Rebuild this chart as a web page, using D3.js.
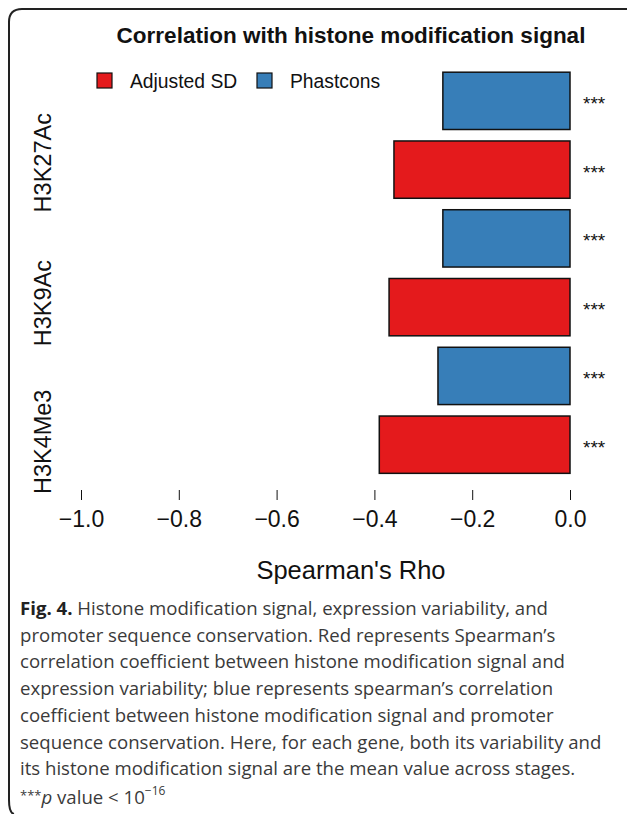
<!DOCTYPE html>
<html>
<head>
<meta charset="utf-8">
<script src="https://cdn.jsdelivr.net/npm/d3@7"></script>
<style>
  html, body { margin: 0; padding: 0; background: #fff; }
  svg { display: block; }
</style>
</head>
<body>
<svg id="fig" width="627" height="814"></svg>
<script>
// Histone marks, listed from the bottom of the chart to the top
const categories = ["H3K4Me3", "H3K9Ac", "H3K27Ac"];
// Spearman's rho with expression variability (adjusted SD)
const adjustedSD = [-0.39, -0.37, -0.36];
// Spearman's rho with promoter conservation (PhastCons)
const phastcons = [-0.27, -0.26, -0.26];
const significance = ["***", "***", "***"];
const seriesNames = ["Adjusted SD", "Phastcons"];
const xTicks = [-1.0, -0.8, -0.6, -0.4, -0.2, 0.0];

const colors = { "Adjusted SD": "#E41A1C", "Phastcons": "#377EB8" };
const sans = "'Liberation Sans', Arial, Helvetica, sans-serif";

const svg = d3.select("#fig");

// Figure frame with rounded corners (open at the right and bottom edges)
svg.append("path")
  .attr("d", "M627,9 L22,9 Q9,9 9,22 L9,800 Q9,813 14,814")
  .attr("fill", "none")
  .attr("stroke", "#222")
  .attr("stroke-width", 2);

// Scales: x in rho units, y in barplot units (bar width 1, gap 0.2)
const x = d3.scaleLinear().domain([-1, 0]).range([81, 570]);
const y = d3.scaleLinear().domain([0, 7.2]).range([484.8, 72.2]);

// Flatten into bars: for each mark, the Adjusted SD bar sits below the Phastcons bar
const bars = [];
categories.forEach((c, i) => {
  bars.push({ cat: c, series: "Adjusted SD", value: adjustedSD[i], sig: significance[i] });
  bars.push({ cat: c, series: "Phastcons", value: phastcons[i], sig: significance[i] });
});
bars.forEach((b, i) => { b.lo = 0.2 + 1.2 * i; b.hi = b.lo + 1; });

svg.append("g").selectAll("rect")
  .data(bars)
  .join("rect")
  .attr("x", d => x(d.value))
  .attr("y", d => y(d.hi))
  .attr("width", d => x(0) - x(d.value))
  .attr("height", d => y(d.lo) - y(d.hi))
  .attr("fill", d => colors[d.series])
  .attr("stroke", "#111")
  .attr("stroke-width", 1.5);

// Significance stars to the right of each bar
svg.append("g").selectAll("text")
  .data(bars)
  .join("text")
  .attr("x", x(0) + 13)
  .attr("y", d => y((d.lo + d.hi) / 2) + 9)
  .attr("font-family", sans)
  .attr("font-size", 19)
  .attr("fill", "#111")
  .text(d => d.sig);

// x axis: ticks only, no baseline
const fmt = v => (v < 0 ? "\u2212" : "") + Math.abs(v).toFixed(1);
const xAxis = svg.append("g")
  .attr("transform", "translate(0,490)")
  .call(d3.axisBottom(x).tickValues(xTicks).tickFormat(fmt).tickSize(10).tickPadding(11));
xAxis.select(".domain").remove();
xAxis.selectAll(".tick line").attr("stroke", "#111").attr("stroke-width", 1);
xAxis.selectAll(".tick text")
  .attr("font-family", sans)
  .attr("font-size", 23)
  .attr("fill", "#111");

// Axis title
svg.append("text")
  .attr("x", 351)
  .attr("y", 579)
  .attr("text-anchor", "middle")
  .attr("font-family", sans)
  .attr("font-size", 25.5)
  .attr("fill", "#111")
  .text("Spearman's Rho");

// Category labels, rotated to read upward
const labelUnits = [0.75, 3.17, 5.62];
svg.append("g").selectAll("text")
  .data(categories)
  .join("text")
  .attr("transform", (d, i) => `translate(51,${y(labelUnits[i])}) rotate(-90)`)
  .attr("text-anchor", "middle")
  .attr("font-family", sans)
  .attr("font-size", 23.5)
  .attr("fill", "#111")
  .text(d => d);

// Title
svg.append("text")
  .attr("x", 351)
  .attr("y", 43)
  .attr("text-anchor", "middle")
  .attr("font-family", sans)
  .attr("font-weight", "bold")
  .attr("font-size", 22.5)
  .attr("fill", "#111")
  .text("Correlation with histone modification signal");

// Legend
const legendX = [97, 257];
const legend = svg.append("g").selectAll("g")
  .data(seriesNames)
  .join("g")
  .attr("transform", (d, i) => `translate(${legendX[i]},73)`);
legend.append("rect")
  .attr("width", 15).attr("height", 15)
  .attr("fill", d => colors[d])
  .attr("stroke", "#111").attr("stroke-width", 1.2);
legend.append("text")
  .attr("x", 33).attr("y", 14.5)
  .attr("font-family", sans)
  .attr("font-size", 19.3)
  .attr("fill", "#111")
  .text(d => d);

// Caption
const capFont = "'Open Sans', 'Noto Sans', sans-serif";
const capLines = [
  "Histone modification signal, expression variability, and",
  "promoter sequence conservation. Red represents Spearman\u2019s",
  "correlation coefficient between histone modification signal and",
  "expression variability; blue represents spearman\u2019s correlation",
  "coefficient between histone modification signal and promoter",
  "sequence conservation. Here, for each gene, both its variability and",
  "its histone modification signal are the mean value across stages."
];
const cap = svg.append("g")
  .attr("font-family", capFont)
  .attr("font-size", 18.6)
  .attr("fill", "#3a3a3a");
const lineH = 26.7;
const capY0 = 615;
capLines.forEach((t, i) => {
  const tx = cap.append("text").attr("x", 20).attr("y", capY0 + i * lineH);
  if (i === 0) {
    tx.append("tspan").attr("font-weight", "bold").attr("fill", "#222").text("Fig. 4.");
    tx.append("tspan").text(" " + t);
  } else {
    tx.text(t);
  }
});
const last = cap.append("text").attr("x", 20).attr("y", capY0 + 7 * lineH + 2);
last.append("tspan").attr("font-size", 13).attr("dy", -4).text("***");
last.append("tspan").attr("font-style", "italic").attr("dy", 4).text("p");
last.append("tspan").text(" value < 10");
last.append("tspan").attr("font-size", 12).attr("dy", -9).text("\u221216");
</script>
</body>
</html>
